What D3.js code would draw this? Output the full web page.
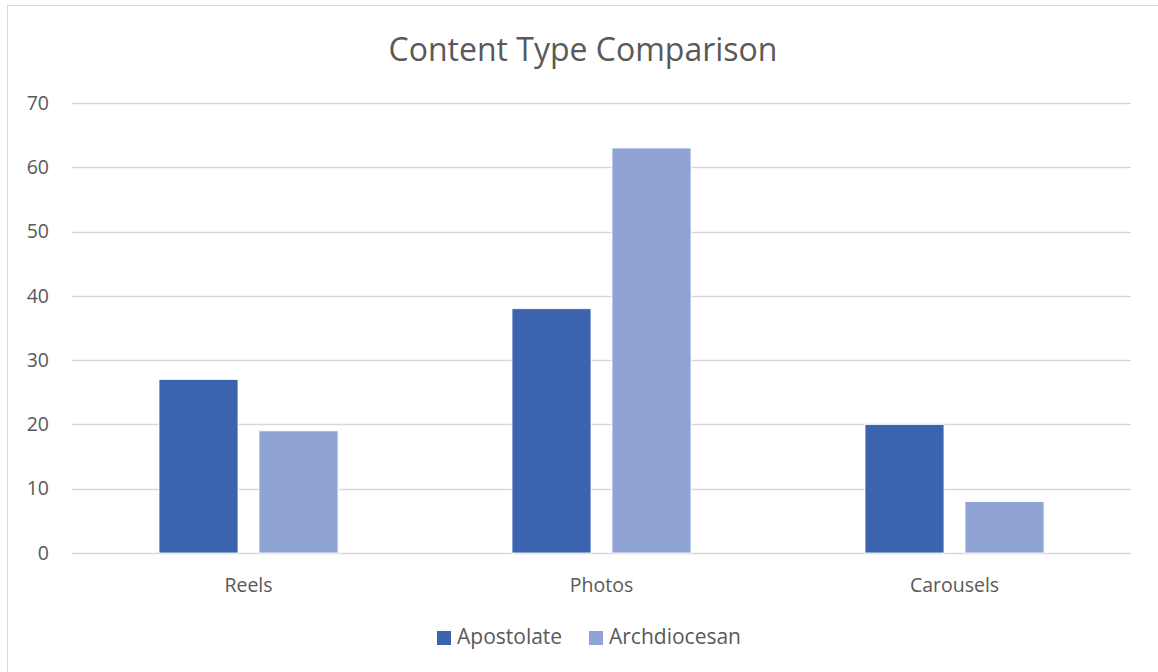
<!DOCTYPE html>
<html>
<head>
<meta charset="utf-8">
<script src="https://cdn.jsdelivr.net/npm/d3@7"></script>
<style>
  html, body { margin: 0; padding: 0; background: #fff; }
  svg { display: block; font-family: "Open Sans", "Noto Sans", sans-serif; }
</style>
</head>
<body>
<svg id="chart" width="1158" height="672"></svg>
<script>
// Chart data
const categories = ["Reels", "Photos", "Carousels"];
const seriesNames = ["Apostolate", "Archdiocesan"];
const apostolate = [27, 38, 20];
const archdiocesan = [19, 63, 8];
const yTicks = [0, 10, 20, 30, 40, 50, 60, 70];
const colors = ["#3C64AE", "#8FA4D5"];

const FONT = '"Open Sans", "Noto Sans", sans-serif';
const svg = d3.select("#chart");
const W = 1158, H = 672;
const margin = { left: 72, right: 27, top: 103, bottom: 119 };

// Outer chart frame
svg.append("rect")
  .attr("x", 7.5).attr("y", 5.5)
  .attr("width", W - 6).attr("height", H)
  .attr("fill", "#fff").attr("stroke", "#D9D9D9").attr("stroke-width", 1);

const x0 = d3.scaleBand()
  .domain(categories)
  .range([margin.left, W - margin.right])
  .paddingInner(0).paddingOuter(0);

const y = d3.scaleLinear()
  .domain([0, 70])
  .range([H - margin.bottom, margin.top]);

// Horizontal gridlines
svg.append("g")
  .selectAll("line")
  .data(yTicks)
  .join("line")
  .attr("x1", margin.left).attr("x2", W - margin.right)
  .attr("y1", d => Math.round(y(d)) + 0.5).attr("y2", d => Math.round(y(d)) + 0.5)
  .attr("stroke", "#D9D9D9").attr("stroke-width", 1.3);

// Y axis labels (right-aligned)
const yAxis = d3.axisLeft(y).tickValues(yTicks).tickSize(0).tickPadding(0);
const yg = svg.append("g")
  .attr("transform", `translate(${margin.left - 23},0)`)
  .call(yAxis)
  .attr("font-family", FONT);
yg.select(".domain").remove();
yg.selectAll("text")
  .attr("fill", "#595959")
  .style("font-size", "19.5px")
  .attr("text-anchor", "end");

// Grouped bars: 79px bars with a 21px gap inside each category
const barW = 79, gap = 21;
const groupW = barW * 2 + gap;
const series = [apostolate, archdiocesan];
const x1 = d3.scaleBand().domain(seriesNames).range([0, groupW])
  .paddingInner(gap / (barW + gap)).paddingOuter(0);

const groups = svg.append("g")
  .selectAll("g")
  .data(categories)
  .join("g")
  .attr("transform", (c) => `translate(${x0(c) + x0.bandwidth() / 2 - groupW / 2},0)`);

groups.selectAll("rect")
  .data((c, i) => seriesNames.map((s, j) => ({ s, v: series[j][i], j })))
  .join("rect")
  .attr("x", d => x1(d.s))
  .attr("width", x1.bandwidth())
  .attr("y", d => y(d.v))
  .attr("height", d => y(0) - y(d.v))
  .attr("fill", d => colors[d.j])
  .attr("stroke", "#fff")
  .attr("stroke-width", 0.8);

// X axis labels
const xAxis = d3.axisBottom(x0).tickSize(0).tickPadding(0);
const xg = svg.append("g")
  .attr("transform", `translate(0,${y(0) + 39})`)
  .call(xAxis)
  .attr("font-family", FONT);
xg.select(".domain").remove();
xg.selectAll("text")
  .attr("fill", "#595959")
  .attr("dy", 0)
  .style("font-size", "19.5px");

// Title
svg.append("text")
  .attr("x", 583).attr("y", 61)
  .attr("text-anchor", "middle")
  .attr("fill", "#595959")
  .style("font-size", "32px")
  .text("Content Type Comparison");

// Legend
const legend = svg.append("g");
const legendItems = [{ name: seriesNames[0], x: 437 }, { name: seriesNames[1], x: 589 }];
legendItems.forEach((it, i) => {
  legend.append("rect")
    .attr("x", it.x).attr("y", 631)
    .attr("width", 14).attr("height", 14)
    .attr("fill", colors[i]);
  legend.append("text")
    .attr("x", it.x + 20).attr("y", 644)
    .attr("fill", "#595959")
    .style("font-size", "21px")
    .text(it.name);
});
</script>
</body>
</html>
